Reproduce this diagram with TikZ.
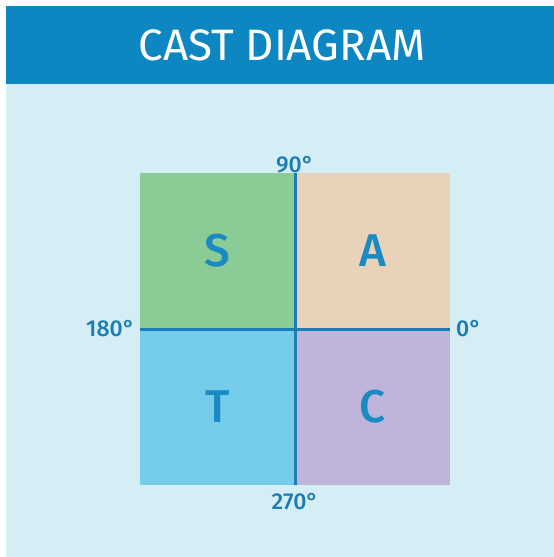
\documentclass[tikz,border=0pt]{standalone}
\usepackage{fontspec}
\setmainfont{Fira Sans}
\newfontfamily\labelfont{Fira Sans Medium}
\usepackage{tikz}
\usetikzlibrary{positioning}
\definecolor{castHeader}{HTML}{0D87C1}
\definecolor{castBack}{HTML}{D5EEF6}
\definecolor{castLine}{HTML}{1B7DB4}
\definecolor{castLetter}{HTML}{1A8AC3}
\definecolor{quadGreen}{HTML}{8BCB95}
\definecolor{quadPeach}{HTML}{E8D3BA}
\definecolor{quadBlue}{HTML}{74CCEA}
\definecolor{quadPurple}{HTML}{BFB5DA}

\begin{document}
\begin{tikzpicture}[
    x=1pt, y=-1pt,
    quadrant/.style={minimum width=155pt, minimum height=156pt, inner sep=0pt, outer sep=0pt,
        font=\labelfont\fontsize{46}{50}\selectfont, text=castLetter},
    angle/.style={font=\labelfont\fontsize{23}{26}\selectfont, text=castLine, inner sep=2pt},
    axis/.style={draw=castLine, line width=3pt},
]
    % Page and header
    \useasboundingbox (0,0) rectangle (554,557);
    \fill[white] (0,0) rectangle (554,557);
    \fill[castBack] (6,6) rectangle (554,557);
    \fill[castHeader] (6,6) rectangle (554,84);
    \node[text=white, font=\fontsize{44}{48}\selectfont] (title) at (282,45) {CAST DIAGRAM};

    % Quadrants
    \node[quadrant, fill=quadGreen, anchor=north west] (S) at (140,173) {S};
    \node[quadrant, fill=quadPeach, right=0pt of S] (A) {A};
    \node[quadrant, fill=quadBlue, below=0pt of S] (T) {T};
    \node[quadrant, fill=quadPurple, right=0pt of T] (C) {C};

    % Axes
    \draw[axis] (S.north east) -- (T.south east);
    \draw[axis] (S.south west) -- (A.south east);

    % Angle labels
    \node[angle, above=-2pt of S.north east] (deg90) {90°};
    \node[angle, below=6pt of T.south east] (deg270) {270°};
    \node[angle, left=3pt of S.south west] (deg180) {180°};
    \node[angle, right=4pt of A.south east] (deg0) {0°};
\end{tikzpicture}
\end{document}
